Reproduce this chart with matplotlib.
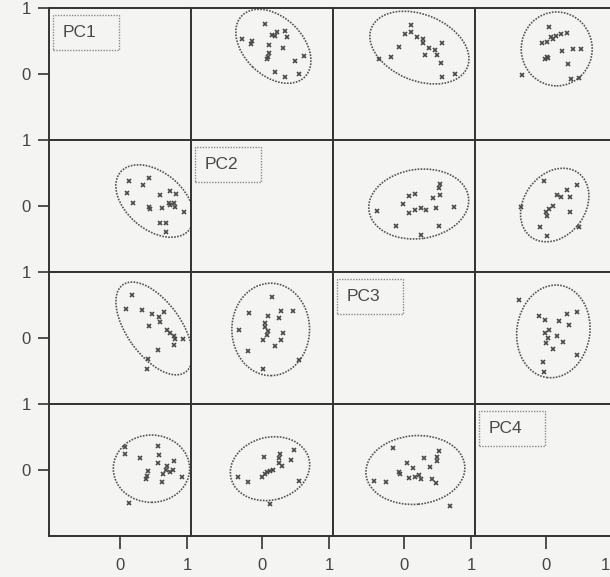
import numpy as np
import matplotlib.pyplot as plt
import matplotlib.transforms as mtransforms
from matplotlib.patches import Ellipse, Rectangle

# ---------------------------------------------------
# Data: scores per off-diagonal panel
# pRC -> row R (y = PC R), column C (x = PC C)
# eRC -> confidence ellipse (cx, cy, width, height, angle)
# ---------------------------------------------------

pc_labels = ["PC1", "PC2", "PC3", "PC4"]

p12_x = [0.05, -0.30, -0.15, -0.16, 0.15, 0.22, 0.34, 0.38, 0.19, 0.11,
         0.31, 0.11, 0.09, 0.07, 0.50, 0.62, 0.19, 0.34, 0.55]
p12_y = [0.76, 0.53, 0.50, 0.45, 0.59, 0.63, 0.65, 0.56, 0.57, 0.44,
         0.40, 0.32, 0.26, 0.23, 0.19, 0.28, 0.03, -0.04, 0.00]
e12 = (0.17, 0.42, 1.32, 0.88, -45)

p13_x = [0.10, 0.10, 0.01, 0.19, 0.29, 0.29, -0.08, 0.37, 0.47, 0.56,
         -0.20, -0.38, 0.31, 0.49, 0.55, 0.56, 0.76]
p13_y = [0.74, 0.63, 0.60, 0.56, 0.53, 0.47, 0.41, 0.40, 0.37, 0.47,
         0.26, 0.22, 0.29, 0.29, 0.17, -0.05, 0.00]
e13 = (0.23, 0.40, 1.55, 1.00, -23)

p14_x = [0.04, 0.31, 0.22, 0.15, 0.07, 0.11, 0.01, -0.06, 0.24, 0.40,
         0.52, 0.01, 0.03, -0.01, 0.33, 0.38, 0.50, -0.36]
p14_y = [0.71, 0.62, 0.60, 0.58, 0.56, 0.53, 0.49, 0.47, 0.35, 0.38,
         0.38, 0.26, 0.24, 0.22, 0.15, -0.08, -0.06, -0.02]
e14 = (0.16, 0.38, 1.06, 1.12, 0)

p21_x = [0.13, 0.44, 0.35, 0.10, 0.19, 0.60, 0.74, 0.83, 0.73, 0.80,
         0.62, 0.45, 0.43, 0.82, 0.95, 0.60, 0.68, 0.69, 0.75]
p21_y = [0.38, 0.43, 0.32, 0.20, 0.04, 0.17, 0.22, 0.18, 0.04, 0.05,
         -0.03, -0.05, -0.02, -0.02, -0.09, -0.26, -0.26, -0.39, 0.02]
e21 = (0.52, 0.075, 1.35, 0.86, -41)

p23_x = [0.53, 0.52, 0.53, 0.44, 0.08, 0.17, -0.02, 0.08, 0.16, 0.26,
         0.33, 0.48, 0.74, -0.40, -0.12, 0.52, 0.25]
p23_y = [0.34, 0.27, 0.17, 0.12, 0.15, 0.18, 0.03, -0.11, -0.06, -0.03,
         -0.06, -0.03, -0.01, -0.08, -0.30, -0.30, -0.44]
e23 = (0.22, 0.03, 1.50, 1.05, 8)

p24_x = [-0.03, 0.47, 0.32, 0.17, 0.22, 0.36, 0.11, 0.05, 0.00, 0.01,
         0.36, -0.38, -0.09, 0.50, 0.01]
p24_y = [0.38, 0.32, 0.25, 0.17, 0.13, 0.13, 0.00, -0.05, -0.09, -0.15,
         -0.09, -0.02, -0.32, -0.32, -0.45]
e24 = (0.13, 0.015, 1.20, 0.92, 55)

p31_x = [0.18, 0.09, 0.33, 0.48, 0.58, 0.66, 0.60, 0.43, 0.70, 0.75,
         0.80, 0.82, 0.94, 0.81, 0.57, 0.42, 0.40]
p31_y = [0.65, 0.44, 0.42, 0.36, 0.32, 0.40, 0.25, 0.18, 0.12, 0.07,
         0.03, -0.02, -0.02, -0.11, -0.18, -0.32, -0.47]
e31 = (0.51, 0.145, 1.62, 0.81, -55)

p32_x = [0.15, -0.19, 0.29, 0.47, 0.09, 0.26, 0.05, 0.05, 0.09, -0.34,
         0.32, 0.07, 0.01, 0.29, 0.19, -0.21, 0.55, 0.01]
p32_y = [0.62, 0.38, 0.41, 0.41, 0.34, 0.31, 0.22, 0.16, 0.11, 0.12,
         0.07, 0.05, -0.03, -0.03, -0.12, -0.20, -0.33, -0.47]
e32 = (0.13, 0.13, 1.16, 1.40, 0)

p34_x = [-0.40, 0.46, 0.31, -0.11, -0.01, 0.20, 0.35, 0.05, -0.01, 0.17,
         0.26, 0.03, 0.00, 0.10, 0.47, -0.05, -0.03]
p34_y = [0.58, 0.40, 0.37, 0.34, 0.28, 0.26, 0.19, 0.12, 0.07, 0.03,
         -0.06, 0.00, -0.07, -0.17, -0.26, -0.37, -0.51]
e34 = (0.11, 0.10, 1.09, 1.41, -8)

p41_x = [0.08, 0.07, 0.30, 0.56, 0.58, 0.57, 0.80, 0.70, 0.68, 0.74,
         0.79, 0.42, 0.40, 0.39, 0.64, 0.62, 0.93, 0.14]
p41_y = [0.35, 0.25, 0.18, 0.37, 0.23, 0.10, 0.14, 0.06, 0.00, -0.03,
         0.00, -0.01, -0.09, -0.14, -0.06, -0.18, -0.10, -0.50]
e41 = (0.47, 0.02, 1.14, 1.02, 0)

p42_x = [0.03, 0.27, 0.26, 0.43, 0.48, 0.25, 0.30, 0.17, 0.12, 0.07,
         0.04, 0.00, -0.36, -0.21, 0.55, 0.12]
p42_y = [0.20, 0.24, 0.18, 0.15, 0.31, 0.11, 0.06, 0.00, -0.02, -0.03,
         -0.06, -0.10, -0.10, -0.18, -0.16, -0.52]
e42 = (0.12, 0.02, 1.20, 0.95, 15)

p43_x = [-0.16, 0.52, 0.49, 0.49, 0.30, 0.04, 0.13, 0.39, -0.07, -0.06,
         0.07, 0.16, 0.23, 0.25, 0.42, 0.48, -0.45, -0.27, 0.69]
p43_y = [0.33, 0.29, 0.20, 0.14, 0.18, 0.11, 0.03, 0.05, -0.03, -0.06,
         -0.12, -0.10, -0.08, -0.13, -0.14, -0.20, -0.16, -0.18, -0.55]
e43 = (0.17, 0.0, 1.48, 1.04, 5)

panels = {
    (0, 1): (p12_x, p12_y, e12), (0, 2): (p13_x, p13_y, e13),
    (0, 3): (p14_x, p14_y, e14), (1, 0): (p21_x, p21_y, e21),
    (1, 2): (p23_x, p23_y, e23), (1, 3): (p24_x, p24_y, e24),
    (2, 0): (p31_x, p31_y, e31), (2, 1): (p32_x, p32_y, e32),
    (2, 3): (p34_x, p34_y, e34), (3, 0): (p41_x, p41_y, e41),
    (3, 1): (p42_x, p42_y, e42), (3, 2): (p43_x, p43_y, e43),
}

# ---------------------------------------------------
# Layout (pixels on a 610 x 577 canvas)
# ---------------------------------------------------

W, H = 610, 577
left_px, top_px = 49, 8
cell_w, cell_h = 142, 132

paper = "#f4f4f2"
ink = "#333333"
plt.rcParams["font.family"] = ["Liberation Sans", "DejaVu Sans"]

fig = plt.figure(figsize=(W / 100, H / 100), dpi=100, facecolor=paper)

for r in range(4):
    for c in range(4):
        x0 = (left_px + c * cell_w) / W
        y0 = 1 - (top_px + (r + 1) * cell_h) / H
        ax = fig.add_axes([x0, y0, cell_w / W, cell_h / H])
        ax.set_facecolor(paper)
        ax.set_xlim(-1.06, 1.06)
        ax.set_ylim(-1.0, 1.0)
        for s in ax.spines.values():
            s.set_color(ink)
            s.set_linewidth(1.4)

        if c == 0:
            ax.set_yticks([0, 1])
            ax.set_yticklabels(["0", "1"])
            ax.tick_params(axis="y", length=8, width=1.2, pad=5,
                           colors=ink, labelcolor="#444444", labelsize=12)
        else:
            ax.set_yticks([])
        if r == 3:
            ax.set_xticks([0, 1])
            ax.set_xticklabels(["0", "1"])
            ax.tick_params(axis="x", length=9, width=1.2, pad=7,
                           colors=ink, labelcolor="#444444", labelsize=12)
            if c == 3:
                # last column runs past the canvas edge: pull its "1" inside
                lbl = ax.get_xticklabels()[1]
                lbl.set_horizontalalignment("right")
                lbl.set_transform(lbl.get_transform() + mtransforms.ScaledTranslation(
                    -3 / 100, 0, fig.dpi_scale_trans))
        else:
            ax.set_xticks([])

        if r == c:
            ax.add_patch(Rectangle((0.03, 0.68), 0.46, 0.27,
                                   transform=ax.transAxes, fill=False,
                                   edgecolor="#8a8a8a", linewidth=1.0,
                                   linestyle=(0, (1, 1))))
            ax.text(0.095, 0.815, pc_labels[r], transform=ax.transAxes,
                    ha="left", va="center", fontsize=12.5, color="#4a4a4a")
            continue

        xs, ys, (cx, cy, ew, eh, ang) = panels[(r, c)]
        ax.plot(xs, ys, linestyle="none", marker="x", markersize=2.8,
                markeredgewidth=1.2, color="#484848")
        ax.add_patch(Ellipse((cx, cy), ew, eh, angle=ang, fill=False,
                             edgecolor="#555555", linewidth=1.2,
                             linestyle=(0, (1, 0.8))))

fig.savefig("out.png", dpi=100, facecolor=paper)
